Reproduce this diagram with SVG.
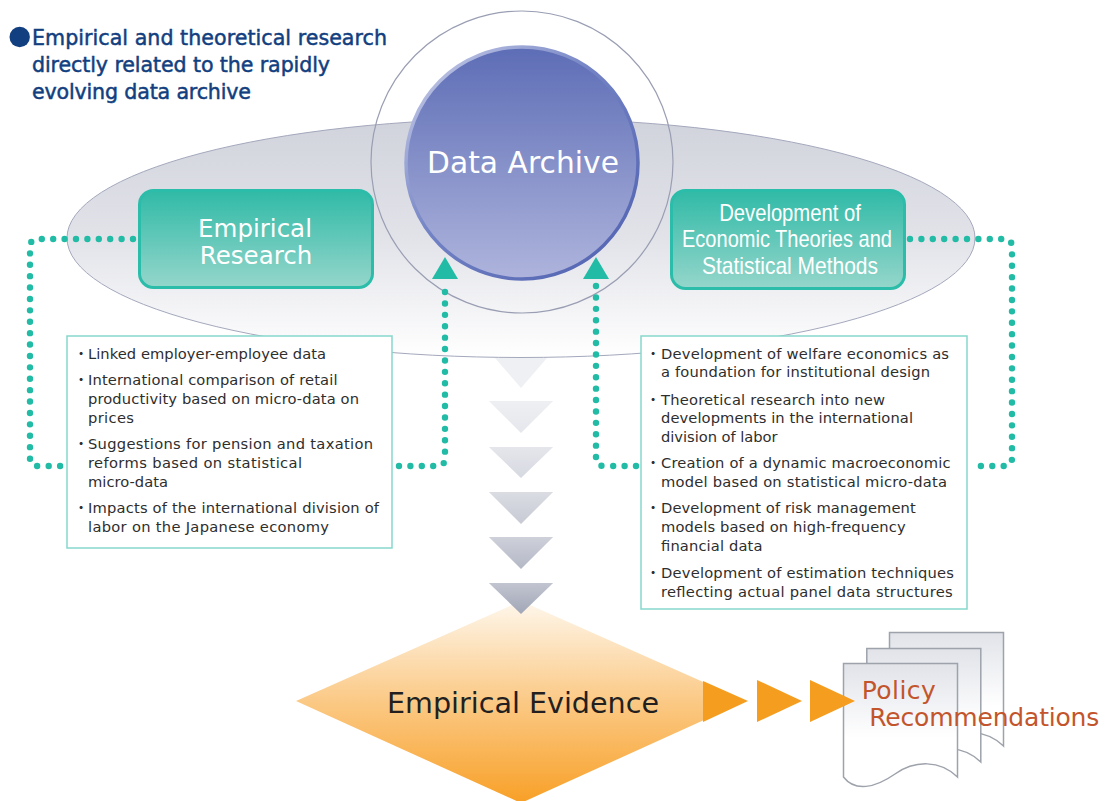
<svg xmlns="http://www.w3.org/2000/svg" width="1105" height="801" viewBox="0 0 1105 801">
<defs>
<linearGradient id="gEllipse" x1="0" y1="0" x2="0" y2="1">
<stop offset="0" stop-color="#d1d3dc"/><stop offset="0.5" stop-color="#e2e3e9"/><stop offset="1" stop-color="#ffffff"/>
</linearGradient>
<linearGradient id="gArchive" x1="0" y1="0" x2="0" y2="1">
<stop offset="0" stop-color="#5d6db6"/><stop offset="1" stop-color="#aeb4dc"/>
</linearGradient>
<linearGradient id="gArchiveStroke" x1="0" y1="0" x2="1" y2="1">
<stop offset="0" stop-color="#d0d4ec"/><stop offset="0.45" stop-color="#7282c4"/><stop offset="1" stop-color="#4f60b0"/>
</linearGradient>
<linearGradient id="gTeal" x1="0" y1="0" x2="0" y2="1">
<stop offset="0" stop-color="#30baa7"/><stop offset="1" stop-color="#95d6cb"/>
</linearGradient>
<linearGradient id="gDiamond" gradientUnits="userSpaceOnUse" x1="0" y1="601" x2="0" y2="803">
<stop offset="0" stop-color="#fef7ec"/><stop offset="0.5" stop-color="#fbc985"/><stop offset="1" stop-color="#f8a027"/>
</linearGradient>
<linearGradient id="gPage" x1="0" y1="0" x2="0" y2="1">
<stop offset="0" stop-color="#e1e3e9"/><stop offset="0.6" stop-color="#ffffff"/>
</linearGradient>
<linearGradient id="gChev" x1="0" y1="0" x2="0" y2="1">
<stop offset="0" stop-color="#ffffff" stop-opacity="0.35"/><stop offset="1" stop-color="#ffffff" stop-opacity="0"/>
</linearGradient>
<style>
.list{font-family:"DejaVu Sans","Liberation Sans",sans-serif;font-size:14.7px;fill:#2e2e2e}
.bul{font-family:"Noto Sans CJK JP","DejaVu Sans",sans-serif;font-size:14.7px;fill:#2e2e2e;text-anchor:middle}
.dots{fill:none;stroke:#22bca6;stroke-width:6.4;stroke-linecap:round;stroke-dasharray:0 11.4}
.box{fill:#ffffff;stroke:#86d7cc;stroke-width:1.5}
.teal{fill:url(#gTeal);stroke:#2bbda9;stroke-width:3}
.tealtxt{font-family:"DejaVu Sans","Liberation Sans",sans-serif;font-size:24.5px;fill:#ffffff;text-anchor:middle}
.devtxt{font-family:"Liberation Sans",sans-serif;font-size:24px;fill:#ffffff;text-anchor:middle}
.title{font-family:"DejaVu Sans","Liberation Sans",sans-serif;font-size:20.6px;fill:#123f80;stroke:#123f80;stroke-width:0.5}
.page{fill:url(#gPage);stroke:#9da2ab;stroke-width:1.5}
.orange{fill:#f59d1e}
.arrowhead{fill:#22bca6}
</style>
</defs>
<rect width="1105" height="801" fill="#ffffff"/>

<g id="background-ellipse">
<ellipse cx="521" cy="238" rx="454" ry="119.5" fill="url(#gEllipse)" stroke="#a4a8bc" stroke-width="1"/>
</g>

<g id="data-archive">
<circle cx="522" cy="162" r="151" fill="none" stroke="#9a9eb3" stroke-width="1.2"/>
<circle cx="522" cy="163" r="116" fill="url(#gArchive)" stroke="url(#gArchiveStroke)" stroke-width="3.5"/>
<text x="523" y="173" font-family="DejaVu Sans, Liberation Sans, sans-serif" font-size="29.7" fill="#ffffff" text-anchor="middle" textLength="192">Data Archive</text>
</g>

<g id="empirical-research">
<rect class="teal" x="139.5" y="190.5" width="233" height="97" rx="14"/>
<text class="tealtxt" x="255" y="237">Empirical</text>
<text class="tealtxt" x="256" y="264">Research</text>
</g>

<g id="development-theories">
<rect class="teal" x="671.5" y="190.5" width="233" height="98" rx="14"/>
<text class="devtxt" x="790" y="220.7" textLength="141.6" lengthAdjust="spacingAndGlyphs">Development of</text>
<text class="devtxt" x="787" y="246.7" textLength="210" lengthAdjust="spacingAndGlyphs">Economic Theories and</text>
<text class="devtxt" x="790" y="274" textLength="176" lengthAdjust="spacingAndGlyphs">Statistical Methods</text>
</g>

<g id="empirical-evidence">
<polygon points="521,601 746,701 521,803 296,701" fill="url(#gDiamond)"/>
<text x="523" y="712.7" font-family="DejaVu Sans, Liberation Sans, sans-serif" font-size="28.6" fill="#231f20" text-anchor="middle" textLength="272">Empirical Evidence</text>
</g>

<g id="policy-recommendations">
<path class="page" d="M843.5,663.5 H957.5 V777 C940,760 915,760 895,774 C875,788 855,792 843.5,777 Z" transform="translate(46,-31)"/>
<path class="page" d="M843.5,663.5 H957.5 V777 C940,760 915,760 895,774 C875,788 855,792 843.5,777 Z" transform="translate(23.3,-15)"/>
<path class="page" d="M843.5,663.5 H957.5 V777 C940,760 915,760 895,774 C875,788 855,792 843.5,777 Z"/>
</g>

<g id="empirical-list">
<rect class="box" x="67" y="336" width="325" height="212"/>
<text class="bul" x="81" y="359">・</text>
<text class="bul" x="81" y="385">・</text>
<text class="bul" x="81" y="449">・</text>
<text class="bul" x="81" y="513">・</text>
<text class="list" x="88" y="359" textLength="238">Linked employer-employee data</text>
<text class="list" x="88" y="385" textLength="249.5">International comparison of retail</text>
<text class="list" x="88" y="404" textLength="271">productivity based on micro-data on</text>
<text class="list" x="88" y="423" textLength="46">prices</text>
<text class="list" x="88" y="449" textLength="285">Suggestions for pension and taxation</text>
<text class="list" x="88" y="468" textLength="214">reforms based on statistical</text>
<text class="list" x="88" y="487" textLength="80">micro-data</text>
<text class="list" x="88" y="513" textLength="291">Impacts of the international division of</text>
<text class="list" x="88" y="532" textLength="241">labor on the Japanese economy</text>
</g>

<g id="theory-list">
<rect class="box" x="641" y="336" width="326" height="273"/>
<text class="bul" x="653" y="359">・</text>
<text class="bul" x="653" y="404.5">・</text>
<text class="bul" x="653" y="468">・</text>
<text class="bul" x="653" y="513">・</text>
<text class="bul" x="653" y="578">・</text>
<text class="list" x="661" y="359" textLength="288">Development of welfare economics as</text>
<text class="list" x="661" y="377" textLength="269">a foundation for institutional design</text>
<text class="list" x="661" y="404.5" textLength="224">Theoretical research into new</text>
<text class="list" x="661" y="423" textLength="252">developments in the international</text>
<text class="list" x="661" y="441.5" textLength="116.5">division of labor</text>
<text class="list" x="661" y="468" textLength="289.6">Creation of a dynamic macroeconomic</text>
<text class="list" x="661" y="487" textLength="286">model based on statistical micro-data</text>
<text class="list" x="661" y="513" textLength="254.8">Development of risk management</text>
<text class="list" x="661" y="532" textLength="244.7">models based on high-frequency</text>
<text class="list" x="661" y="551" textLength="101.5">financial data</text>
<text class="list" x="661" y="578" textLength="293">Development of estimation techniques</text>
<text class="list" x="661" y="597" textLength="291.6">reflecting actual panel data structures</text>
</g>

<g id="connectors">
<path class="dots" d="M133,239 H38 Q30,239 30,247 V458 Q30,466 38,466 H64"/>
<path class="dots" d="M399,466 H437 Q445,466 445,458 V284"/>
<path class="dots" d="M910,239 H1004 Q1012,239 1012,247 V458 Q1012,466 1004,466 H972"/>
<path class="dots" d="M636,466 H604 Q596,466 596,458 V284"/>
<polygon class="arrowhead" points="445,257 458,279 432,279"/>
<polygon class="arrowhead" points="596,257 609,279 583,279"/>
<g id="chevrons">
<polygon points="495,358 547,358 521,388" fill="#eff0f3"/>
<polygon points="489,401 553,401 521,433" fill="#e5e7ec"/>
<polygon points="489,447 553,447 521,478" fill="#d7d9e1"/>
<polygon points="489,492 553,492 521,524" fill="#c7cad4"/>
<polygon points="489,537 553,537 521,569" fill="#b4b8c6"/>
<polygon points="489,583 553,583 521,614" fill="#a1a6b7"/>
<polygon points="489,401 553,401 521,433" fill="url(#gChev)"/>
<polygon points="489,447 553,447 521,478" fill="url(#gChev)"/>
<polygon points="489,492 553,492 521,524" fill="url(#gChev)"/>
<polygon points="489,537 553,537 521,569" fill="url(#gChev)"/>
<polygon points="489,583 553,583 521,614" fill="url(#gChev)"/>
</g>
<polygon class="orange" points="703,681 748,701 703,722"/>
<polygon class="orange" points="757,680 802,701 757,722"/>
<polygon class="orange" points="810,680 855,701 810,722"/>
</g>

<g id="policy-label">
<text x="861.7" y="699" font-family="DejaVu Sans, Liberation Sans, sans-serif" font-size="25" fill="#c3552c" textLength="74">Policy</text>
<text x="869.3" y="725.7" font-family="DejaVu Sans, Liberation Sans, sans-serif" font-size="25" fill="#c3552c" textLength="230">Recommendations</text>
</g>

<g id="title">
<circle cx="19.7" cy="37" r="10.2" fill="#123f80"/>
<text class="title" x="32" y="45" textLength="355">Empirical and theoretical research</text>
<text class="title" x="32" y="72" textLength="298">directly related to the rapidly</text>
<text class="title" x="32" y="98.5" textLength="219">evolving data archive</text>
</g>
</svg>
